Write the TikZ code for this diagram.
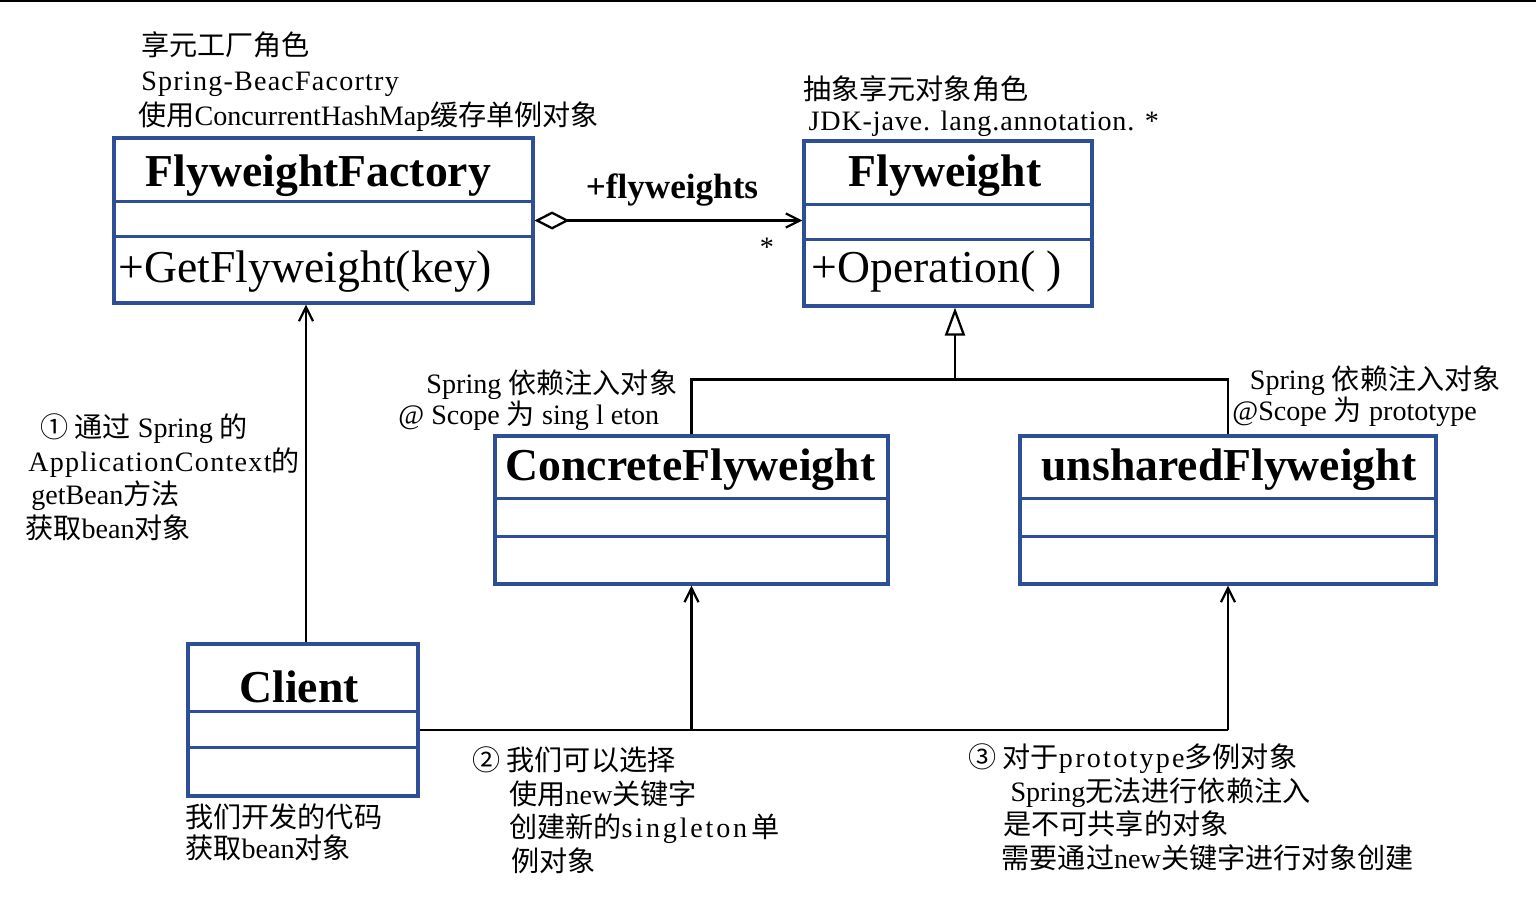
\documentclass[tikz,border=0pt]{standalone}
\usepackage{fontspec}
\setmainfont{Liberation Serif}
\newfontfamily\zhfont{Noto Sans CJK SC}
\newcommand{\zh}[1]{{\zhfont #1}}
\newcommand{\ls}[2]{{\addfontfeature{LetterSpace=#1}#2}}
\usetikzlibrary{arrows.meta,positioning,calc}
\definecolor{umlblue}{RGB}{46,78,150}

\tikzset{
  umlbox/.style={draw=umlblue, line width=1.8pt, inner sep=0pt},
  umlsep/.style={draw=umlblue, line width=1.8pt},
  classname/.style={font=\bfseries\fontsize{26}{30}\selectfont, inner sep=0pt},
  method/.style={font=\fontsize{26}{30}\selectfont, inner sep=0pt, anchor=west},
  note/.style={font=\fontsize{16}{19.3}\selectfont, inner sep=0pt, align=left, anchor=north west},
  link/.style={line width=1.3pt},
  dep/.style={link, -{Straight Barb[length=8pt,width=8pt]}},
  agg/.style={link, {Diamond[open,length=0.7cm,width=0.36cm]}-{Straight Barb[length=8pt,width=8pt]}},
  gen/.style={link, -{Triangle[open,length=0.56cm,width=0.4cm]}}
}

\begin{document}
\begin{tikzpicture}[x=0.02cm, y=-0.02cm]
  \useasboundingbox (0,0) rectangle (1536,910);
  \draw[line width=1.1pt] (0,1) -- (1536,1);

  % Class boxes
  \node[umlbox, minimum width=8.38cm, minimum height=3.3cm] (factory) at (323.5,220.5) {};
  \node[umlbox, minimum width=5.76cm, minimum height=3.3cm] (flyweight) at (948,223.5) {};
  \node[umlbox, minimum width=7.86cm, minimum height=2.96cm] (concrete) at (691.5,510) {};
  \node[umlbox, minimum width=8.32cm, minimum height=2.96cm] (unshared) at (1228,510) {};
  \node[umlbox, minimum width=4.6cm, minimum height=3.04cm] (client) at (303,720) {};

  % Compartment lines
  \foreach \c/\a/\b in {factory/65/100, flyweight/65/100, concrete/64/102, unshared/64/102, client/69/105} {
    \draw[umlsep] ($(\c.north west)+(0,\a)$) -- ($(\c.north east)+(0,\a)$);
    \draw[umlsep] ($(\c.north west)+(0,\b)$) -- ($(\c.north east)+(0,\b)$);
  }

  % Class names and methods
  \node[classname] (factorytitle) at ($(factory.north)+(-5,39)$) {FlyweightFactory};
  \node[classname] (flyweighttitle) at ($(flyweight.north)+(-3,36)$) {Flyweight};
  \node[classname] (concretetitle) at ($(concrete.north)+(-1,35)$) {ConcreteFlyweight};
  \node[classname] (unsharedtitle) at ($(unshared.north)+(1,35)$) {unsharedFlyweight};
  \node[classname] (clienttitle) at ($(client.north)+(-4,44)$) {Client};
  \node[method] (getfw) at ($(factory.west)+(6,51)$) {+GetFlyweight(key)};
  \node[method] (operation) at ($(flyweight.west)+(9,48)$) {+Operation( )};

  % Aggregation
  \draw[agg] (factory.east) -- (factory.east -| flyweight.west);
  \node[font=\bfseries\fontsize{20}{24}\selectfont, inner sep=0pt] (rolename) at (672,190) {+flyweights};
  \node[font=\fontsize{16}{19}\selectfont, inner sep=0pt] (multi) at (767,247) {*};

  % Generalization
  \coordinate (genjoin) at ($(flyweight.south)+(7,72)$);
  \draw[link] (concrete.north) |- (genjoin) -| (unshared.north);
  \draw[gen] (genjoin) -- ($(flyweight.south)+(7,0)$);

  % Client links
  \coordinate (clienttop) at ($(client.north)+(3,0)$);
  \draw[dep] (clienttop) -- (clienttop |- factory.south);
  \coordinate (bus) at ($(client.east)+(0,10)$);
  \draw[link] (bus) -- (bus -| unshared.south);
  \draw[dep] (bus -| concrete.south) -- (concrete.south);
  \draw[dep] (bus -| unshared.south) -- (unshared.south);

  % Notes
  \node[note, font=\fontsize{16}{20}\selectfont] (factorynote) at (141,31) {\zh{享元工厂角色}\\\ls{4.3}{Spring-BeacFacortry}\\\hspace*{-1.7pt}\zh{使用}ConcurrentHashMap\zh{缓存单例对象}};
  \node[note, font=\fontsize{16}{17.6}\selectfont] (flyweightnote) at (803,75) {\zh{抽象享元对象角色}\\\hspace*{3pt}\ls{3}{JDK-jave. lang.annotation. *}};
  \node[note, font=\fontsize{16}{18}\selectfont] (concretenote) at (398,369) {\hspace*{16pt}Spring \zh{依赖注入对象}\\@ Scope \zh{为} sing l eton};
  \node[note, font=\fontsize{16}{18}\selectfont] (unsharednote) at (1232,365) {\hspace*{10pt}Spring \zh{依赖注入对象}\\@Scope \zh{为} prototype};
  \node[note] (getbeannote) at (25,413) {\hspace*{8.5pt}\zh{① 通过} Spring \zh{的}\\\hspace*{1.7pt}\ls{4.5}{ApplicationContext}\zh{的}\\\hspace*{3.4pt}getBean\zh{方法}\\\zh{获取}bean\zh{对象}};
  \node[note, font=\fontsize{16}{18}\selectfont] (clientnote) at (185,803) {\zh{我们开发的代码}\\\zh{获取}bean\zh{对象}};
  \node[note] (singletonnote) at (472,746) {\zh{② 我们可以选择}\\\hspace*{21pt}\zh{使用}new\zh{关键字}\\\hspace*{21pt}\zh{创建新的}\ls{10}{singleton}\,\zh{单}\\\hspace*{22pt}\zh{例对象}};
  \node[note] (prototypenote) at (968,743) {\zh{③ 对于}\ls{8}{prototype}\zh{多例对象}\\\hspace*{24pt}Spring\zh{无法进行依赖注入}\\\hspace*{20pt}\zh{是不可共享的对象}\\\hspace*{19pt}\zh{需要通过}new\zh{关键字进行对象创建}};
\end{tikzpicture}
\end{document}
